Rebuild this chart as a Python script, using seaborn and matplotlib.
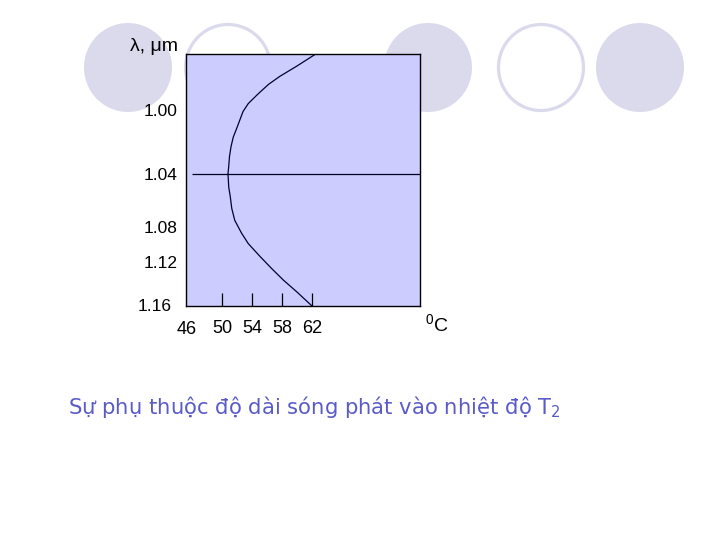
import numpy as np
import pandas as pd
import matplotlib
matplotlib.use("Agg")
import matplotlib.pyplot as plt
import matplotlib.transforms as mtransforms
from matplotlib.patches import Ellipse
import seaborn as sns

# values
temp_c = [62.5, 60.0, 57.7, 56.2, 54.8, 53.5, 52.8, 52.4, 52.0, 51.5, 51.2, 51.0, 50.9,
          50.8, 50.9, 51.1, 51.3, 51.7, 52.6, 53.5, 55.1, 56.6, 58.2, 60.0, 62.0]
wavelength_um = [0.965, 0.9725, 0.979, 0.984, 0.990, 0.996, 1.001, 1.006, 1.011, 1.017,
                 1.023, 1.029, 1.035, 1.040, 1.050, 1.057, 1.066, 1.075, 1.087, 1.099,
                 1.114, 1.126, 1.137, 1.148, 1.161]
x_ticks = [46, 50, 54, 58, 62]
y_ticks = [1.00, 1.04, 1.08, 1.12, 1.16]
ref_line = 1.04
caption = "Sự phụ thuộc độ dài sóng phát vào nhiệt độ T$_2$"

sns.set_style("white")
plt.rcParams["font.family"] = ["Liberation Sans", "DejaVu Sans"]
plt.rcParams["mathtext.default"] = "regular"
plt.rcParams["text.color"] = "black"
plt.rcParams["axes.labelcolor"] = "black"
plt.rcParams["xtick.color"] = "black"
plt.rcParams["ytick.color"] = "black"

# the y labels on the slide are not evenly spaced, so use a piecewise scale
knot_vals = np.array([0.90, 1.00, 1.04, 1.08, 1.12, 1.16, 1.25])
knot_pos = np.array([-50.0, 110.0, 174.0, 227.0, 262.0, 305.0, 401.75])


def fwd(v):
    return np.interp(v, knot_vals, knot_pos)


def inv(p):
    return np.interp(p, knot_pos, knot_vals)


df = pd.DataFrame({"T": temp_c, "lam": wavelength_um})

fig = plt.figure(figsize=(7.2, 5.4), dpi=100)

# decorative circles of the slide template
W, H = 720, 540
for cx, filled in [(128, True), (228, False), (428, True), (541, False), (640, True)]:
    if filled:
        e = Ellipse((cx / W, 1 - 67.5 / H), 88 / W, 89 / H, transform=fig.transFigure,
                    facecolor="#DADAEC", edgecolor="none", zorder=-1)
    else:
        e = Ellipse((cx / W, 1 - 67.5 / H), 85 / W, 86 / H, transform=fig.transFigure,
                    facecolor="none", edgecolor="#DADAEC", linewidth=2.3, zorder=-1)
    fig.patches.append(e)

ax = fig.add_axes([186 / W, 1 - 306 / H, 234 / W, 252 / H])
ax.set_facecolor("#CCCCFF")
ax.set_yscale("function", functions=(fwd, inv))

sns.lineplot(data=df, x="T", y="lam", sort=False, estimator=None,
             color="#000033", linewidth=0.9, ax=ax)
ax.hlines(ref_line, 46, 80, color="#000022", linewidth=0.9)

ax.set_xlim(45.2, 76.4)
ax.set_ylim(1.161, 0.965)

ax.set_xticks(x_ticks)
ax.set_xticklabels([str(t) for t in x_ticks])
ax.set_yticks(y_ticks)
ax.set_yticklabels([f"{v:.2f}" for v in y_ticks])
ax.tick_params(axis="x", direction="in", length=9.5, width=0.9, color="black",
               labelcolor="black", pad=10, labelsize=13, bottom=True)
ax.tick_params(axis="y", length=0, pad=6, labelsize=12.5, labelcolor="black", left=True)
ax.xaxis.get_major_ticks()[0].tick1line.set_visible(False)

# small offsets of single labels as on the slide
shift_46 = mtransforms.ScaledTranslation(-5 / 100, -1 / 100, fig.dpi_scale_trans)
lab46 = ax.get_xticklabels()[0]
lab46.set_transform(lab46.get_transform() + shift_46)
shift_116 = mtransforms.ScaledTranslation(-6 / 100, 0, fig.dpi_scale_trans)
lab116 = ax.get_yticklabels()[-1]
lab116.set_transform(lab116.get_transform() + shift_116)

for s in ax.spines.values():
    s.set_color("black")
    s.set_linewidth(1.0)

ax.set_xlabel("$^0$C", fontsize=14, color="black")
ax.xaxis.set_label_coords(1.07, -0.03)
ax.set_ylabel("λ, μm", fontsize=14, rotation=0, ha="right", va="center", color="black")
ax.yaxis.set_label_coords(-0.035, 1.028)

fig.text(68 / W, 1 - 407 / H, caption, fontsize=15.2, color="#5B5BC8",
         family=["DejaVu Sans"], ha="left", va="center")

fig.savefig("out.png", dpi=100)
